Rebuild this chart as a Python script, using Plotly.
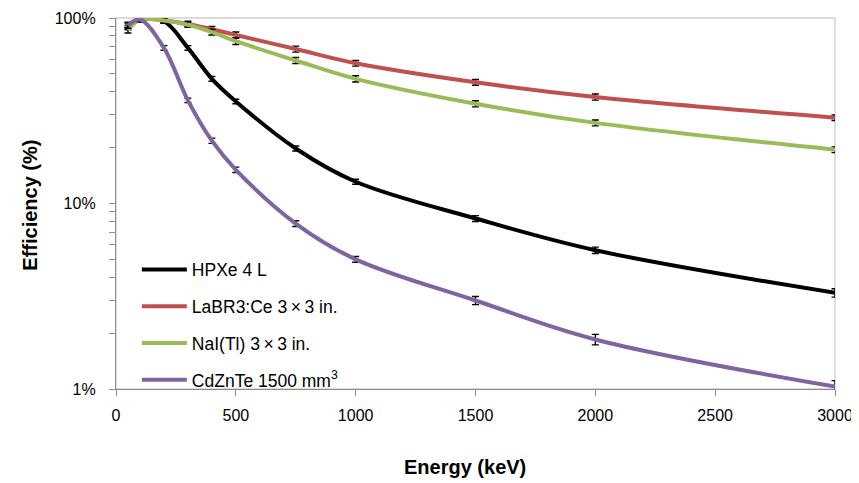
import plotly.graph_objects as go

energy = [50, 100, 200, 300, 400, 500, 750, 1000, 1500, 2000, 3000]

hpxe = [89, 98, 96, 69, 47, 35.5, 19.8, 13.1, 8.3, 5.6, 3.3]
hpxe_err = [2.5, 2.5, 2.5, 2.0, 1.4, 1.0, 0.6, 0.4, 0.3, 0.22, 0.17]

labr = [92, 99, 97, 93, 87, 81, 68, 57, 45, 37.5, 29]
labr_err = [3, 3, 3, 3, 3, 3, 2.5, 2, 1.6, 1.4, 1.0]

nai = [86, 98, 97, 92, 84, 75, 59, 47, 34.5, 27.2, 19.5]
nai_err = [3, 3, 3, 3, 3, 3, 2.2, 1.8, 1.3, 1.0, 0.7]

czt = [91, 98, 69, 36, 21.8, 15.2, 7.8, 5.0, 3.0, 1.85, 1.03]
czt_err = [3, 2.5, 2.0, 1.0, 0.7, 0.5, 0.28, 0.18, 0.15, 0.12, 0.08]

names = ["HPXe 4 L", "LaBR3:Ce 3\u2009\u00d7\u20093 in.", "NaI(Tl) 3\u2009\u00d7\u20093 in.",
         "CdZnTe 1500 mm<sup>3</sup>"]
colors = ["#000000", "#C0504D", "#9BBB59", "#8064A2"]
series = [hpxe, labr, nai, czt]
errors = [hpxe_err, labr_err, nai_err, czt_err]

xtick_vals = [0, 500, 1000, 1500, 2000, 2500, 3000]
ytick_vals = [1, 10, 100]
ytick_text = ["1%", "10%", "100%"]
minor_vals = [2, 3, 4, 5, 6, 7, 8, 9, 20, 30, 40, 50, 60, 70, 80, 90]

fig = go.Figure()
for i, (nm, col, ys, es) in enumerate(zip(names, colors, series, errors)):
    fig.add_trace(go.Scatter(
        x=energy, y=ys, name=nm, mode="lines",
        line=dict(color=col, width=4, shape="spline", smoothing=1.0),
        error_y=dict(type="data", array=es, visible=True, color="#000000",
                     thickness=1.4, width=3.5),
        legendgroup=f"g{i}",
    ))

axis_gray = "#8C8C8C"
fig.update_layout(
    width=859, height=483,
    margin=dict(l=108, r=32, t=10, b=102),
    paper_bgcolor="white", plot_bgcolor="white",
    font=dict(family="Liberation Sans, Arial, sans-serif", size=16, color="#000000"),
    showlegend=True,
    legend=dict(x=0.029, y=0.37, xanchor="left", yanchor="top",
                bgcolor="rgba(0,0,0,0)", font=dict(size=17.5),
                tracegroupgap=11, itemwidth=45),
    shapes=[dict(type="rect", xref="paper", yref="paper", x0=0, x1=1, y0=0, y1=1,
                 line=dict(color="#D0D0D0", width=1.3), layer="below")],
    annotations=[
        dict(text="<b>Energy (keV)</b>", xref="paper", yref="paper",
             x=0.486, y=-0.21, xanchor="center", yanchor="middle",
             showarrow=False, font=dict(size=20)),
        dict(text="<b>Efficiency (%)</b>", xref="paper", yref="paper",
             x=-0.12, y=0.496, xanchor="center", yanchor="middle",
             textangle=-90, showarrow=False, font=dict(size=20)),
    ],
)

fig.update_xaxes(
    range=[0, 3000], tickvals=xtick_vals, automargin=False, ticklabelstandoff=6,
    showgrid=False, zeroline=False, showline=True, linecolor=axis_gray, linewidth=1.3,
    ticks="outside", ticklen=6, tickcolor=axis_gray, tickwidth=1.3,
)
fig.update_yaxes(
    type="log", range=[0, 2], tickvals=ytick_vals, ticktext=ytick_text, automargin=False,
    ticklabelstandoff=10,
    showgrid=False, zeroline=False, showline=True, linecolor=axis_gray, linewidth=1.3,
    ticks="outside", ticklen=6, tickcolor=axis_gray, tickwidth=1.3,
    minor=dict(tickvals=minor_vals, ticks="outside", ticklen=6,
               tickcolor=axis_gray, tickwidth=1.3, showgrid=False),
)

fig.write_html("out.html")
